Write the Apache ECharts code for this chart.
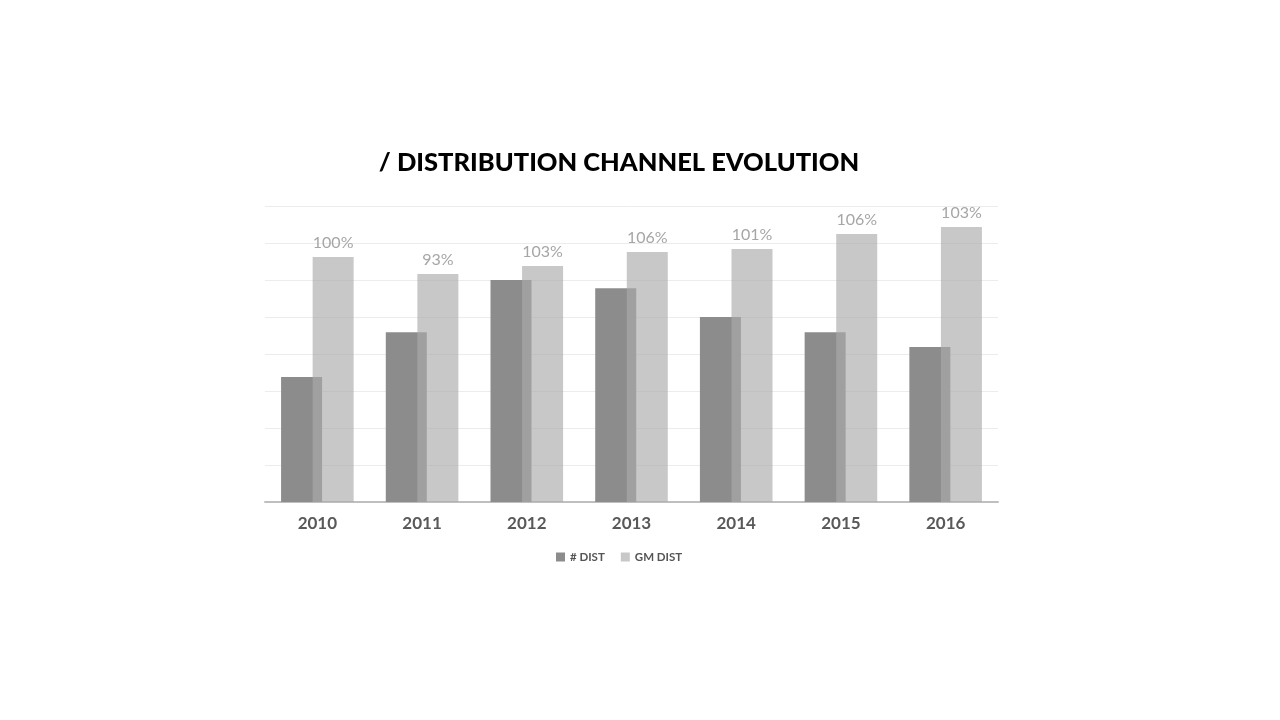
<!DOCTYPE html>
<html>
<head>
<meta charset="utf-8">
<script src="https://cdn.jsdelivr.net/npm/echarts@6/dist/echarts.min.js"></script>
<style>
  html, body { margin: 0; padding: 0; background: #fff; }
  #chart { width: 1280px; height: 720px; }
</style>
</head>
<body>
<div id="chart"></div>
<script>
"use strict";
// values, in gridline units (0..8)
var years = ['2010', '2011', '2012', '2013', '2014', '2015', '2016'];
var distCount = [3.38, 4.59, 6.0, 5.78, 5.0, 4.59, 4.19];
var gmDist = [6.62, 6.16, 6.38, 6.76, 6.84, 7.24, 7.43];
var gmLabels = ['100%', '93%', '103%', '106%', '101%', '106%', '103%'];

var chart = echarts.init(document.getElementById('chart'));
var font = 'Lato, "Open Sans", sans-serif';

var option = {
  backgroundColor: '#ffffff',
  animation: false,
  title: {
    text: '/ DISTRIBUTION CHANNEL EVOLUTION',
    left: 614,
    textAlign: 'center',
    top: 145,
    textStyle: { fontFamily: font, fontWeight: 900, fontSize: 25.5, color: '#000' }
  },
  legend: {
    left: 551,
    top: 546,
    itemWidth: 9,
    itemHeight: 9,
    itemGap: 16,
    icon: 'rect',
    textStyle: { fontFamily: font, fontWeight: 'bold', fontSize: 11.5, color: '#555' },
    data: ['# DIST', 'GM DIST']
  },
  grid: { left: 265, right: 282, top: 206, bottom: 218 },
  xAxis: {
    type: 'category',
    data: years,
    axisLine: { lineStyle: { color: '#bfbfbf', width: 2 } },
    axisTick: { show: false },
    axisLabel: {
      margin: 13,
      fontFamily: font, fontWeight: 'bold', fontSize: 17, color: '#595959'
    }
  },
  yAxis: {
    type: 'value',
    min: 0,
    max: 8,
    interval: 1,
    axisLabel: { show: false },
    axisLine: { show: false },
    axisTick: { show: false },
    splitLine: { lineStyle: { color: '#ececec', width: 1 } }
  },
  series: [
    {
      name: '# DIST',
      type: 'bar',
      data: distCount,
      barWidth: 41,
      barGap: '-23%',
      itemStyle: { color: '#8c8c8c' }
    },
    {
      name: 'GM DIST',
      type: 'bar',
      data: gmDist,
      barWidth: 41,
      itemStyle: { color: 'rgba(171,171,171,0.65)' },
      label: {
        show: true,
        position: 'top',
        distance: 6,
        fontFamily: font,
        fontSize: 16,
        color: '#a6a6a6',
        formatter: function (p) { return gmLabels[p.dataIndex]; }
      }
    }
  ]
};
chart.setOption(option);
</script>
</body>
</html>
